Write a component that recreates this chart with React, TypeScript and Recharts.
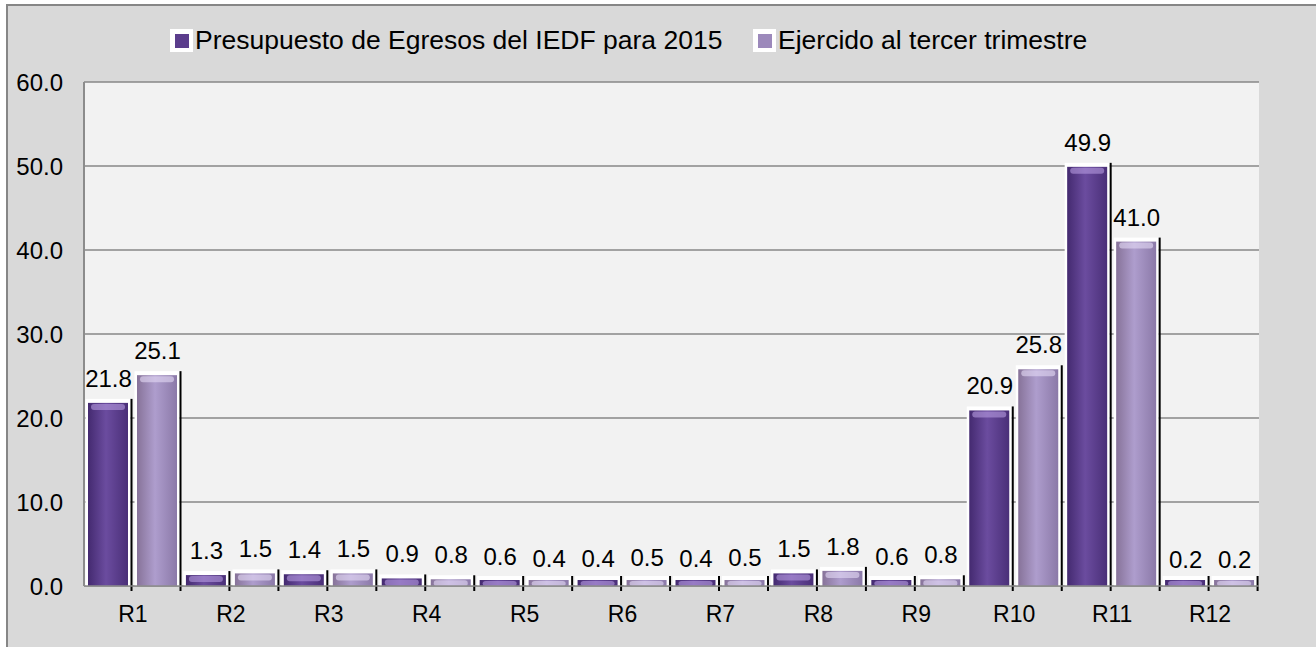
import React from 'react';
import { BarChart, Bar, XAxis, YAxis, CartesianGrid, LabelList } from 'recharts';

const regions = ['R1', 'R2', 'R3', 'R4', 'R5', 'R6', 'R7', 'R8', 'R9', 'R10', 'R11', 'R12'];
const presupuesto = [21.8, 1.3, 1.4, 0.9, 0.6, 0.4, 0.4, 1.5, 0.6, 20.9, 49.9, 0.2];
const ejercido = [25.1, 1.5, 1.5, 0.8, 0.4, 0.5, 0.5, 1.8, 0.8, 25.8, 41.0, 0.2];
const yTicks = [0, 10, 20, 30, 40, 50, 60];
const seriesNames = ['Presupuesto de Egresos del IEDF para 2015', 'Ejercido al tercer trimestre'];

const data = regions.map((region, i) => ({
  region,
  presupuesto: presupuesto[i],
  ejercido: ejercido[i],
}));

const FONT = '"Liberation Sans", Arial, sans-serif';

const bevelBar = (gradId: string, capColor: string) => (props: any) => {
  const { x, y, width, height } = props;
  const base = y + height;
  const top = Math.min(y, base - 6);
  const h = base - top;
  return (
    <g>
      <rect x={x + 1.5} y={top - 4} width={width - 4} height={h + 4} fill="#fff" />
      <rect x={x + 4} y={top} width={width - 9} height={h} fill={`url(#${gradId})`} />
      <rect x={x + 7} y={top + 1} width={width - 15} height={Math.min(6, h - 1)} rx={3} fill={capColor} opacity={0.6} />
      <rect x={x + width - 2.5} y={top - 4} width={2} height={h + 9} fill="#000" />
    </g>
  );
};

const LegendItem = ({ left, color, label }: { left: number; color: string; label: string }) => (
  <div style={{ position: 'absolute', left, top: 29, display: 'flex', alignItems: 'center' }}>
    <div style={{ width: 23, height: 23, background: '#fff', display: 'flex', alignItems: 'center', justifyContent: 'center' }}>
      <div style={{ width: 14, height: 14, background: color }} />
    </div>
    <span style={{ fontFamily: FONT, fontSize: 26.5, color: '#000', marginLeft: 2, lineHeight: '23px' }}>{label}</span>
  </div>
);

export default function App() {
  return (
    <div style={{ position: 'absolute', left: 0, top: 0, width: 1316, height: 647, overflow: 'hidden', background: '#fff' }}>
      <div
        style={{
          position: 'absolute',
          left: 6,
          top: 4,
          width: 1330,
          height: 660,
          background: '#d9d9d9',
          borderLeft: '2px solid #868686',
          borderTop: '2px solid #868686',
        }}
      />
      <div style={{ position: 'absolute', left: 0, top: 0 }}>
        <BarChart
          width={1316}
          height={647}
          data={data}
          margin={{ top: 82, right: 57, bottom: 0, left: 0 }}
          barCategoryGap={0}
          barGap={0}
        >
          <defs>
            <linearGradient id="gradA" x1="0" y1="0" x2="1" y2="0">
              <stop offset="0%" stopColor="#442a70" />
              <stop offset="45%" stopColor="#6b4c9f" />
              <stop offset="100%" stopColor="#4a2f78" />
            </linearGradient>
            <linearGradient id="gradB" x1="0" y1="0" x2="1" y2="0">
              <stop offset="0%" stopColor="#877399" />
              <stop offset="45%" stopColor="#ae9dcd" />
              <stop offset="100%" stopColor="#8b79a8" />
            </linearGradient>
          </defs>
          <CartesianGrid horizontal vertical={false} stroke="#878787" strokeWidth={1.5} fill="#f2f2f2" />
          <XAxis
            dataKey="region"
            height={61}
            tickLine={false}
            tickSize={0}
            tickMargin={20}
            axisLine={{ stroke: '#8c8c8c', strokeWidth: 1.5 }}
            tick={{ fontSize: 23, fill: '#000', fontFamily: FONT }}
          />
          <YAxis
            width={84}
            domain={[0, 60]}
            ticks={yTicks}
            interval={0}
            tickLine={false}
            tickSize={0}
            tickMargin={21}
            tickFormatter={(v: number) => v.toFixed(1)}
            axisLine={{ stroke: '#8c8c8c', strokeWidth: 2 }}
            tick={{ fontSize: 24, fill: '#000', fontFamily: FONT }}
          />
          <Bar dataKey="presupuesto" name={seriesNames[0]} isAnimationActive={false} shape={bevelBar('gradA', '#b59be0')}>
            <LabelList
              dataKey="presupuesto"
              position="top"
              offset={16}
              formatter={(v: any) => Number(v).toFixed(1)}
              fill="#000"
              fontSize={24}
              fontFamily={FONT}
            />
          </Bar>
          <Bar dataKey="ejercido" name={seriesNames[1]} isAnimationActive={false} shape={bevelBar('gradB', '#e4dbf5')}>
            <LabelList
              dataKey="ejercido"
              position="top"
              offset={16}
              formatter={(v: any) => Number(v).toFixed(1)}
              fill="#000"
              fontSize={24}
              fontFamily={FONT}
            />
          </Bar>
        </BarChart>
      </div>
      <LegendItem left={170} color="#5b3d8c" label={seriesNames[0]} />
      <LegendItem left={753} color="#9c89bb" label={seriesNames[1]} />
    </div>
  );
}
